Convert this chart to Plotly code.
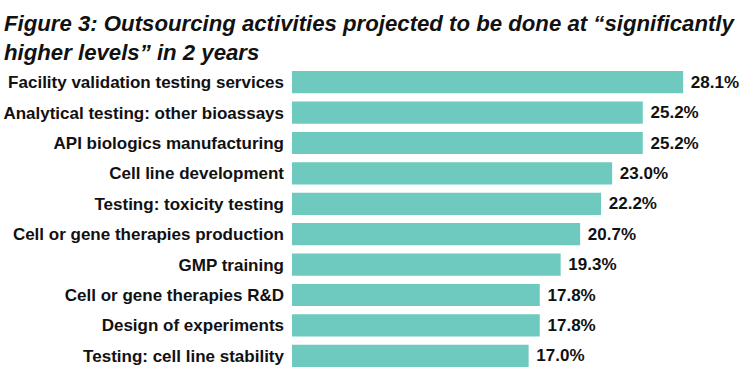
import plotly.graph_objects as go

categories = [
    "Facility validation testing services",
    "Analytical testing: other bioassays",
    "API biologics manufacturing",
    "Cell line development",
    "Testing: toxicity testing",
    "Cell or gene therapies production",
    "GMP training",
    "Cell or gene therapies R&D",
    "Design of experiments",
    "Testing: cell line stability",
]
values = [28.1, 25.2, 25.2, 23.0, 22.2, 20.7, 19.3, 17.8, 17.8, 17.0]
value_labels = [f"\u00a0{v:.1f}%" for v in values]

title_text = ("Figure 3: Outsourcing activities projected to be done at \u201csignificantly"
              "<br>higher levels\u201d in 2 years")

FONT = "Liberation Sans, Arial, sans-serif"

fig = go.Figure(go.Bar(
    x=values, y=categories, orientation="h",
    marker=dict(color="#6ECABE", line=dict(width=0)),
    text=value_labels, textposition="outside", constraintext="none",
    textfont=dict(family=FONT, size=17, color="#111111", weight="bold"),
    cliponaxis=False, width=0.73, hoverinfo="skip",
))

fig.update_layout(
    width=743, height=371,
    margin=dict(l=292, r=0, t=67, b=0, autoexpand=False),
    paper_bgcolor="white", plot_bgcolor="white",
    showlegend=False,
    xaxis=dict(range=[0, 32.4], visible=False, fixedrange=True, automargin=False),
    yaxis=dict(autorange="reversed", showgrid=False, zeroline=False, showline=False, ticks="",
               ticklabelstandoff=7, automargin=False, fixedrange=True,
               tickfont=dict(family=FONT, size=17, color="#111111", weight="bold")),
    annotations=[dict(
        text=title_text, x=0, y=1, xref="paper", yref="paper",
        xshift=-290, yshift=58, xanchor="left", yanchor="top", align="left", showarrow=False,
        font=dict(family=FONT, size=22.2, color="#111111", weight="bold", style="italic"),
    )],
)

fig.write_html("out.html", config={"displayModeBar": False},
               post_script="document.body.style.margin='0';document.body.style.overflow='hidden';")
